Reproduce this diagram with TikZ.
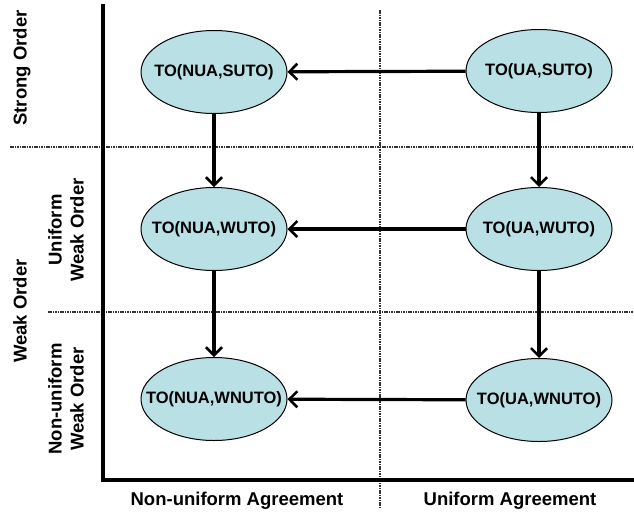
\documentclass[tikz,border=0pt]{standalone}
\usepackage{fontspec}
\setmainfont{Liberation Sans}
\usetikzlibrary{shapes.geometric,arrows.meta}

\definecolor{stateblue}{RGB}{185,224,228}

\tikzset{
    state/.style={ellipse, draw=black, line width=1pt, fill=stateblue,
        minimum width=146pt, minimum height=83pt, inner xsep=-30pt, inner ysep=0pt,
        font=\fontsize{16.5}{18}\selectfont\bfseries},
    trans/.style={line width=3.2pt, -{Straight Barb[length=8pt,width=16pt,line width=2.6pt]}},
    grid/.style={line width=1.4pt, black!80, dash pattern=on 1.6pt off 0.8pt},
    axislabel/.style={font=\fontsize{18.5}{22}\selectfont\bfseries, align=center}
}

\begin{document}
\begin{tikzpicture}[x=1pt,y=-1pt]

    % Fix the page size to the reference
    \useasboundingbox (0,0) rectangle (634,517);

    % Corners of the axes
    \coordinate (Top) at (103,4);
    \coordinate (Origin) at (103,480);
    \coordinate (Right) at (634,480);

    % Dotted separators between the regions
    \draw[grid] (10,147) -- (634,147);
    \draw[grid] (48,312) -- (634,312);
    \draw[grid] (380,10) -- (380,508);

    % The two axes
    \draw[line width=3.4pt] (Top) -- (Origin) -- (Right);

    % The six states, left column is non-uniform agreement
    \node[state] (nsuto)  at (214,72)  {TO(NUA,SUTO)};
    \node[state] (usuto)  at (539,71)  {TO(UA,SUTO)};
    \node[state] (nwuto)  at (214,229) {TO(NUA,WUTO)};
    \node[state] (uwuto)  at (539,229) {TO(UA,WUTO)};
    \node[state] (nwnuto) at (214,399) {TO(NUA,WNUTO)};
    \node[state] (uwnuto) at (539,400) {TO(UA,WNUTO)};

    % Horizontal transitions, from uniform to non-uniform agreement
    \draw[trans] (usuto) -- (nsuto);
    \draw[trans] (uwuto) -- (nwuto);
    \draw[trans] (uwnuto) -- (nwnuto);

    % Vertical transitions, from strong to weaker order
    \draw[trans] (nsuto) -- (nwuto);
    \draw[trans] (nwuto) -- (nwnuto);
    \draw[trans] (usuto) -- (uwuto);
    \draw[trans] (uwuto) -- (uwnuto);

    % Labels of the order axis
    \node[axislabel, rotate=90] (strong) at (22,68) {Strong Order};
    \node[axislabel, rotate=90] (weak) at (20,311) {Weak Order};
    \node[axislabel, rotate=90] (uweak) at (66,230) {Uniform\\Weak Order};
    \node[axislabel, rotate=90] (nuweak) at (66,399) {Non-uniform\\Weak Order};

    % Labels of the agreement axis
    \node[axislabel] (nuagree) at (237,501) {Non-uniform Agreement};
    \node[axislabel] (uagree) at (510,501) {Uniform Agreement};

\end{tikzpicture}
\end{document}
